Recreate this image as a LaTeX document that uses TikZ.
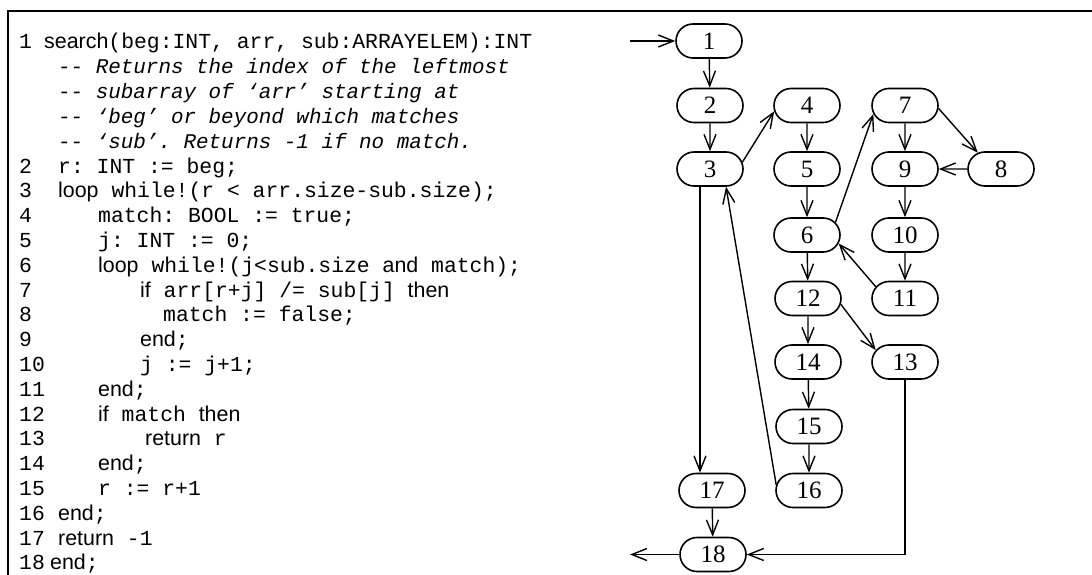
\documentclass[tikz,border=0pt]{standalone}
\usepackage{fontspec}
\setmainfont{Liberation Serif}
\setsansfont{Liberation Sans}
\setmonofont{Liberation Mono}
\usetikzlibrary{arrows.meta,shapes.misc,calc}
\newcommand{\kw}[1]{{\sffamily #1}}
\tikzset{
 blk/.style={draw, line width=1.6pt, rounded rectangle, minimum width=66pt, minimum height=34pt, inner sep=0pt, font=\fontsize{25}{25}\selectfont},
 flow/.style={line width=1.4pt, -{Straight Barb[length=15pt,width=12pt]}},
 codeline/.style={anchor=base west, inner sep=0pt, font=\ttfamily\fontsize{21.4}{25}\selectfont},
 cmt/.style={anchor=base west, inner sep=0pt, font=\ttfamily\itshape\fontsize{20.9}{25}\selectfont},
 framestyle/.style={line width=2.4pt}
}
\begin{document}
\begin{tikzpicture}[x=1pt,y=-1pt]
\useasboundingbox (0,0) rectangle (1092,575);
\draw[framestyle] (8,575) -- (8,11) -- (1092,11);
% line numbers
\node[codeline] (l1) at (19,49) {1};
\node[codeline] (l2) at (19,173) {2};
\node[codeline] (l3) at (19,197.8) {3};
\node[codeline] (l4) at (19,222.6) {4};
\node[codeline] (l5) at (19,247.4) {5};
\node[codeline] (l6) at (19,272.2) {6};
\node[codeline] (l7) at (19,297) {7};
\node[codeline] (l8) at (19,321.8) {8};
\node[codeline] (l9) at (19,346.6) {9};
\node[codeline] (l10) at (19,371.4) {10};
\node[codeline] (l11) at (19,396.2) {11};
\node[codeline] (l12) at (19,421) {12};
\node[codeline] (l13) at (19,445.8) {13};
\node[codeline] (l14) at (19,470.6) {14};
\node[codeline] (l15) at (19,495.4) {15};
\node[codeline] (l16) at (19,520.2) {16};
\node[codeline] (l17) at (19,545) {17};
\node[codeline] (l18) at (19,569.8) {18};
% code
\node[codeline] (c1) at (44,49) {\kw{search}(beg:INT, arr, sub:ARRAYELEM):INT};
\node[cmt] (k1) at (58,73.8) {-{}- Returns the index of the leftmost};
\node[cmt] (k2) at (58,98.6) {-{}- subarray of ‘arr’ starting at};
\node[cmt] (k3) at (58,123.4) {-{}- ‘beg’ or beyond which matches};
\node[cmt] (k4) at (58,148.2) {-{}- ‘sub’. Returns -1 if no match.};
\node[codeline] (c2) at (58,173) {r: INT := beg;};
\node[codeline] (c3) at (58,197.8) {\kw{loop} while!(r < arr.size-sub.size);};
\node[codeline] (c4) at (98,222.6) {match: BOOL := true;};
\node[codeline] (c5) at (98,247.4) {j: INT := 0;};
\node[codeline] (c6) at (98,272.2) {\kw{loop} while!(j<sub.size \kw{and} match);};
\node[codeline] (c7) at (140,297) {\kw{if} arr[r+j] /= sub[j] \kw{then}};
\node[codeline] (c8) at (163,321.8) {match := false;};
\node[codeline] (c9) at (140,346.6) {\kw{end};};
\node[codeline] (c10) at (140,371.4) {j := j+1;};
\node[codeline] (c11) at (98,396.2) {\kw{end};};
\node[codeline] (c12) at (98,421) {\kw{if} match \kw{then}};
\node[codeline] (c13) at (145,445.8) {\kw{return} r};
\node[codeline] (c14) at (98,470.6) {\kw{end};};
\node[codeline] (c15) at (98,495.4) {r := r+1};
\node[codeline] (c16) at (58,520.2) {\kw{end};};
\node[codeline] (c17) at (58,545) {\kw{return} -1};
\node[codeline] (c18) at (50,569.8) {\kw{end};};
% graph
\node[blk] (n1) at (709,41) {1};
\node[blk] (n2) at (710,105.5) {2};
\node[blk] (n3) at (710,169) {3};
\node[blk] (n4) at (807,105.5) {4};
\node[blk] (n5) at (807,169) {5};
\node[blk] (n6) at (807,235) {6};
\node[blk] (n7) at (905,105.5) {7};
\node[blk] (n9) at (905,169) {9};
\node[blk] (n8) at (1001,169) {8};
\node[blk] (n10) at (905,235) {10};
\node[blk] (n11) at (905,298.5) {11};
\node[blk] (n12) at (808,298.5) {12};
\node[blk] (n13) at (905,362) {13};
\node[blk] (n14) at (808,362) {14};
\node[blk] (n15) at (809,426.5) {15};
\node[blk] (n16) at (809,490.5) {16};
\node[blk] (n17) at (712,490.5) {17};
\node[blk] (n18) at (713,554.5) {18};
\coordinate (entry) at (630,41);
\coordinate (exit) at (630,554.5);
\draw[flow] (entry) -- (n1.west);
\draw[flow] (n1) -- (n2);
\draw[flow] (n2) -- (n3);
\draw[flow] (n3.12) -- (n4.190);
\draw[flow] (n4) -- (n5);
\draw[flow] (n5) -- (n6);
\draw[flow] (n6.24) -- (n7.195);
\draw[flow] (n7.355) -- (n8.145);
\draw[flow] (n7) -- (n9);
\draw[flow] (n8) -- (n9);
\draw[flow] (n9) -- (n10);
\draw[flow] (n10) -- (n11);
\draw[flow] (n11.158) -- (n6.345);
\draw[flow] (n6) -- (n12);
\draw[flow] (n12.350) -- (n13.158);
\draw[flow] (n12) -- (n14);
\draw[flow] (n14) -- (n15);
\draw[flow] (n15) -- (n16);
\draw[flow] (n16.170) -- (n3.312);
\draw[flow] ([xshift=-10pt]n3.south) -- ([xshift=-10pt]n3.south |- n17.north);
\draw[flow] (n17) -- (n18);
\draw[flow] (n13.south) -- (n13.south |- n18.east) -- (n18.east);
\draw[flow] (n18.west) -- (exit);
\end{tikzpicture}
\end{document}
